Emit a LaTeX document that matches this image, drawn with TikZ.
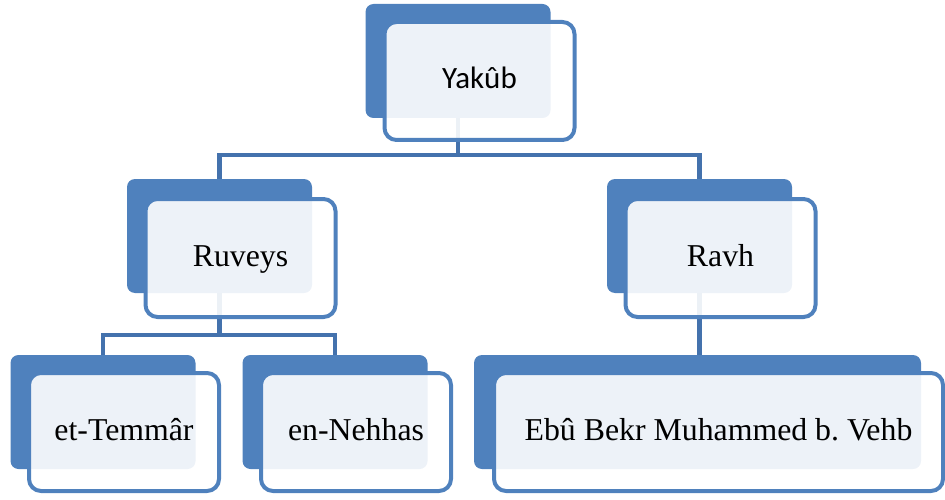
\documentclass[tikz,border=0pt]{standalone}
\usepackage{fontspec}
\setmainfont{Liberation Serif}
\newfontfamily\calib{Carlito}
\definecolor{accblue}{HTML}{4F81BD}
\definecolor{linkblue}{HTML}{4472AD}
\frenchspacing
\begin{document}
\begin{tikzpicture}[x=1pt,y=-1pt,
  backbox/.style={fill=accblue, rounded corners=8pt, inner sep=0pt, minimum width=185pt, minimum height=114pt},
  frontbox/.style={draw=accblue, line width=4pt, fill=white, fill opacity=0.9, text opacity=1, rounded corners=12pt, inner sep=0pt, minimum width=190pt, minimum height=118pt, text height=22pt, text depth=6pt, font=\fontsize{31.8}{36}\selectfont},
  link/.style={draw=linkblue, line width=4.5pt}]
\useasboundingbox (0,0) rectangle (945,500);
% back boxes
\node[backbox] (yb) at (458,61) {};
\node[backbox] (rub) at (219.5,236) {};
\node[backbox] (rvb) at (699.5,236) {};
\node[backbox] (etb) at (103,412) {};
\node[backbox] (enb) at (335,412) {};
\node[backbox, minimum width=447pt] (ebb) at (697.5,412) {};
% bus coordinates
\coordinate (bus1) at (0,155);
\coordinate (bus2) at (0,335);
% connectors
\draw[link] (yb.south) -- (yb.south |- bus1) -| (rub.north);
\draw[link] (yb.south |- bus1) -| (rvb.north);
\draw[link] (rub.south) -- (rub.south |- bus2) -| (etb.north);
\draw[link] (rub.south |- bus2) -| (enb.north);
\draw[link] (rvb.south) -- (rvb.south |- ebb.north);
% front boxes
\node[frontbox, font=\calib\fontsize{31}{36}\selectfont] (y) at (479.5,81) {Yak\^ub};
\node[frontbox] (ru) at (240.5,258) {Ruveys};
\node[frontbox] (rv) at (720.5,258) {Ravh};
\node[frontbox] (et) at (124,432) {et-Temmâr};
\node[frontbox] (en) at (356,432) {en-Nehhas};
\node[frontbox, minimum width=449pt] (eb) at (718.5,432) {Ebû Bekr Muhammed b. Vehb};
\end{tikzpicture}
\end{document}
